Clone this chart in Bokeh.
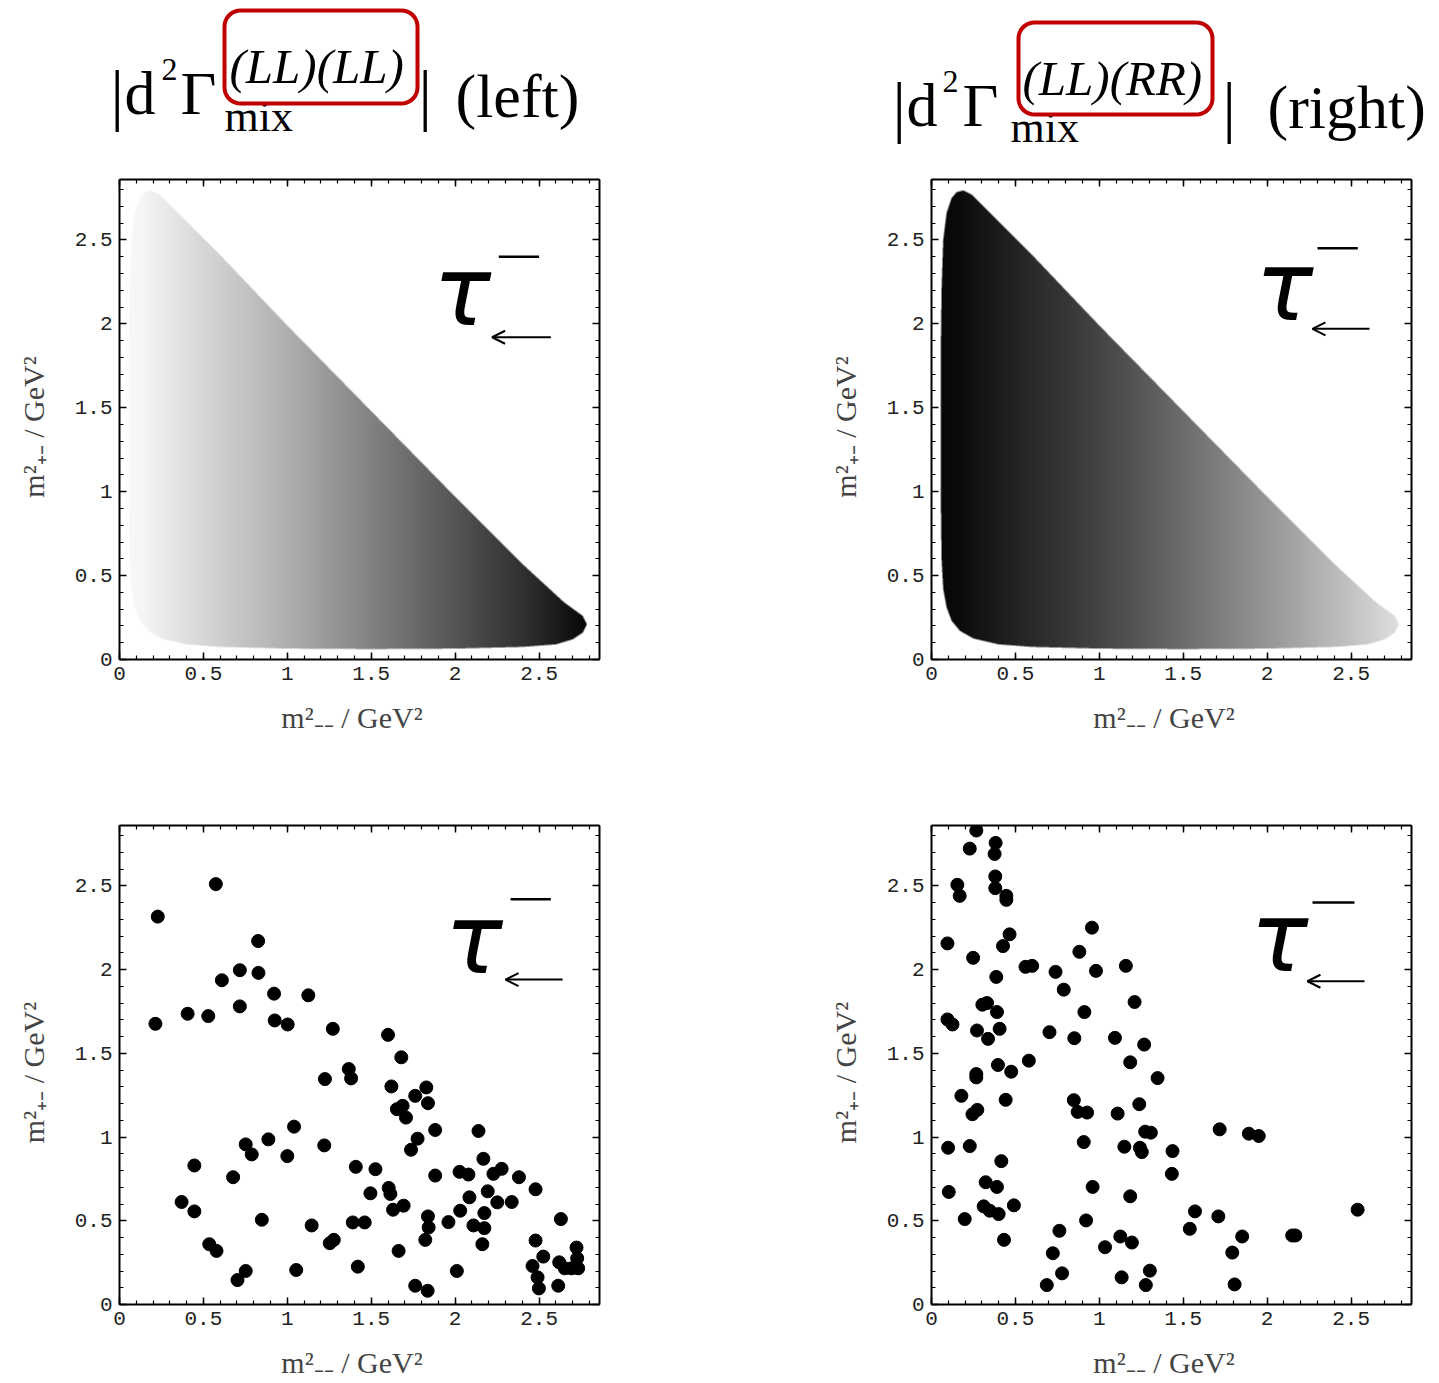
import numpy as np
from bokeh.plotting import figure
from bokeh.models import Range1d, FixedTicker, LinearAxis, Arrow, OpenHead
from bokeh.layouts import column, row
from bokeh.embed import file_html
from bokeh.resources import INLINE
from bokeh.core.properties import value

# ---------------- data ----------------
tick_values = [0, 0.5, 1, 1.5, 2, 2.5]
tick_labels = ["0", "0.5", "1", "1.5", "2", "2.5"]
minor_values = [round(0.1 * k, 1) for k in range(0, 29)]

x_label = "m\u00b2\u208b\u208b  /  GeV\u00b2"
y_label = "m\u00b2\u208a\u208b  /  GeV\u00b2"

# Dalitz region boundary
boundary_x = [0.19, 0.15, 0.12, 0.09, 0.07, 0.06, 0.055, 0.055, 0.06, 0.07, 0.09, 0.12, 0.17,
              0.25, 0.40, 0.60, 1.00, 1.50, 2.00, 2.40, 2.60, 2.70, 2.76, 2.785, 2.76,
              2.65, 2.40, 2.00, 1.50, 1.00, 0.60, 0.38, 0.30, 0.24]
boundary_y = [2.795, 2.785, 2.75, 2.66, 2.50, 2.20, 1.80, 1.00, 0.60, 0.42, 0.31, 0.23, 0.17,
              0.125, 0.09, 0.075, 0.065, 0.062, 0.065, 0.075, 0.09, 0.12, 0.16, 0.21, 0.26,
              0.34, 0.57, 0.97, 1.48, 1.99, 2.41, 2.63, 2.71, 2.77]

# grey level (0 = black, 255 = white) across m2_--
shade_x = [0.0, 0.15, 0.5, 1.0, 1.5, 2.0, 2.5, 2.8]
shade_left = [250, 245, 215, 175, 130, 85, 40, 5]
shade_right = [5, 10, 35, 68, 108, 150, 195, 225]

# scatter samples (LL)(LL)
ll_x = [0.228, 0.574, 0.214, 0.406, 0.529, 0.610, 0.717, 0.826, 0.828, 0.717, 0.921, 0.925,
        1.002, 1.125, 1.271, 1.600, 1.679, 1.366, 1.380, 1.224, 1.620, 1.828, 1.762, 1.838,
        1.653, 1.687, 1.707, 1.881, 2.139, 1.776, 1.737, 1.040, 0.887, 0.752, 0.788, 1.000,
        1.220, 0.446, 0.677, 1.408, 1.525, 2.168, 1.881, 2.026, 2.079, 2.228, 2.277, 2.380,
        2.479, 1.604, 1.614, 1.495, 2.194, 2.085, 2.251, 2.337, 0.370, 0.446, 1.630, 1.693,
        2.030, 2.174, 1.838, 1.960, 0.848, 1.145, 1.390, 1.461, 1.842, 2.109, 2.174, 2.630,
        0.535, 0.578, 1.253, 1.277, 1.663, 1.822, 2.162, 2.479, 2.525, 2.461, 2.491, 2.499,
        2.614, 2.723, 2.620, 2.653, 2.733, 2.693, 2.727, 0.703, 0.752, 1.053, 1.420, 2.010,
        1.762, 1.836]
ll_y = [2.316, 2.510, 1.676, 1.736, 1.722, 1.936, 1.996, 2.170, 1.980, 1.780, 1.856, 1.696,
        1.672, 1.846, 1.646, 1.610, 1.476, 1.406, 1.350, 1.346, 1.302, 1.296, 1.246, 1.202,
        1.166, 1.186, 1.116, 1.042, 1.036, 0.990, 0.924, 1.062, 0.986, 0.956, 0.896, 0.886,
        0.950, 0.830, 0.760, 0.822, 0.808, 0.870, 0.770, 0.792, 0.776, 0.780, 0.810, 0.760,
        0.688, 0.696, 0.660, 0.664, 0.676, 0.640, 0.610, 0.612, 0.612, 0.556, 0.566, 0.590,
        0.560, 0.546, 0.526, 0.492, 0.506, 0.472, 0.490, 0.490, 0.460, 0.472, 0.456, 0.510,
        0.360, 0.320, 0.366, 0.386, 0.320, 0.386, 0.360, 0.382, 0.286, 0.230, 0.162, 0.096,
        0.112, 0.340, 0.252, 0.216, 0.216, 0.216, 0.276, 0.146, 0.200, 0.206, 0.226, 0.200,
        0.112, 0.082]

# scatter samples (LL)(RR)
rr_x = [0.267, 0.228, 0.382, 0.376, 0.380, 0.380, 0.154, 0.168, 0.446, 0.446, 0.465, 0.956,
        0.095, 0.426, 0.881, 0.248, 0.560, 0.600, 0.739, 0.980, 1.158, 0.386, 0.788, 0.303,
        0.331, 1.210, 0.390, 0.911, 0.095, 0.125, 0.271, 0.406, 0.337, 0.703, 0.851, 1.093,
        1.267, 0.580, 0.396, 0.475, 1.184, 0.267, 0.267, 1.347, 0.178, 0.442, 0.848, 1.238,
        0.244, 0.273, 0.871, 0.927, 1.109, 1.273, 1.307, 1.717, 1.891, 1.950, 0.099, 0.228,
        0.907, 1.149, 1.242, 1.253, 1.436, 0.416, 1.432, 0.323, 0.390, 0.103, 0.960, 1.184,
        0.311, 0.347, 0.400, 0.491, 0.198, 0.921, 1.570, 1.539, 1.709, 2.539, 0.432, 0.762,
        1.125, 1.194, 1.034, 0.723, 1.851, 2.149, 2.168, 1.792, 0.778, 0.687, 1.133, 1.301,
        1.277, 1.806]
rr_y = [2.830, 2.722, 2.756, 2.690, 2.556, 2.486, 2.506, 2.440, 2.440, 2.416, 2.210, 2.250,
        2.156, 2.140, 2.106, 2.070, 2.016, 2.022, 1.986, 1.992, 2.022, 1.956, 1.880, 1.790,
        1.800, 1.806, 1.746, 1.746, 1.702, 1.672, 1.636, 1.646, 1.586, 1.626, 1.590, 1.592,
        1.552, 1.456, 1.430, 1.390, 1.446, 1.376, 1.356, 1.352, 1.246, 1.222, 1.220, 1.196,
        1.136, 1.162, 1.150, 1.146, 1.140, 1.032, 1.026, 1.046, 1.020, 1.006, 0.936, 0.946,
        0.970, 0.942, 0.936, 0.910, 0.916, 0.856, 0.780, 0.730, 0.702, 0.672, 0.702, 0.646,
        0.586, 0.560, 0.540, 0.592, 0.510, 0.502, 0.556, 0.452, 0.526, 0.566, 0.386, 0.440,
        0.406, 0.370, 0.342, 0.306, 0.406, 0.412, 0.412, 0.310, 0.186, 0.116, 0.162, 0.202,
        0.116, 0.120]

# ---------------- layout constants ----------------
XMAX = 2.86
PXU = 480 / XMAX          # pixels per data unit
TITLE_H = 158
INK = "#c00000"
SERIF = "Liberation Serif"
BASE_SHIFT = 0.33         # empirical baseline correction (em)


def inside_polygon(X, Y, px, py):
    res = np.zeros(X.shape, dtype=bool)
    n = len(px)
    j = n - 1
    for i in range(n):
        xi, yi, xj, yj = px[i], py[i], px[j], py[j]
        cond = ((yi > Y) != (yj > Y)) & (X < (xj - xi) * (Y - yi) / (yj - yi + 1e-12) + xi)
        res ^= cond
        j = i
    return res


def density_image(gray_stops):
    n, s = 480, 3
    c = (np.arange(n * s) + 0.5) * XMAX / (n * s)
    X, Y = np.meshgrid(c, c)
    cov = inside_polygon(X, Y, boundary_x, boundary_y).astype(float)
    cov = cov.reshape(n, s, n, s).mean(axis=(1, 3))
    cx = (np.arange(n) + 0.5) * XMAX / n
    g = np.interp(cx, shade_x, gray_stops)
    g = np.tile(g, (n, 1)).astype(np.uint8)
    img = np.zeros((n, n), dtype=np.uint32)
    v = img.view(dtype=np.uint8).reshape((n, n, 4))
    v[:, :, 0] = g
    v[:, :, 1] = g
    v[:, :, 2] = g
    v[:, :, 3] = (cov * 255).astype(np.uint8)
    return img


def style_axis(ax, labels=True):
    ax.ticker = FixedTicker(ticks=tick_values, minor_ticks=minor_values)
    ax.major_tick_in = 7
    ax.major_tick_out = 0
    ax.minor_tick_in = 4
    ax.minor_tick_out = 0
    ax.major_tick_line_width = 1.5
    ax.minor_tick_line_width = 1.2
    ax.axis_line_width = 2
    ax.axis_line_color = "black"
    ax.major_tick_line_color = "black"
    ax.minor_tick_line_color = "black"
    if labels:
        ax.major_label_overrides = {v: l for v, l in zip(tick_values, tick_labels)}
        ax.major_label_text_font = "Liberation Mono"
        ax.major_label_text_font_size = "21px"
        ax.major_label_text_color = "#222222"
        ax.major_label_standoff = 7
    else:
        ax.major_label_text_color = None


def panel(width, height, bl, br, bt, bb, tau_pos):
    p = figure(width=width, height=height, x_range=Range1d(0, XMAX), y_range=Range1d(0, XMAX),
               output_backend="svg", toolbar_location=None,
               min_border_left=bl, min_border_right=br, min_border_top=bt, min_border_bottom=bb)
    p.grid.visible = False
    p.outline_line_color = "black"
    p.outline_line_width = 1
    p.background_fill_color = "white"
    for ax in p.xaxis + p.yaxis:
        style_axis(ax, True)
        ax.axis_label_text_font = SERIF
        ax.axis_label_text_font_size = "30px"
        ax.axis_label_text_font_style = "normal"
        ax.axis_label_text_color = "#444444"
    p.xaxis.axis_label = x_label
    p.yaxis.axis_label = y_label
    p.xaxis.axis_label_standoff = 18
    p.yaxis.axis_label_standoff = 22
    top = LinearAxis()
    right = LinearAxis()
    style_axis(top, False)
    style_axis(right, False)
    p.add_layout(top, "above")
    p.add_layout(right, "right")

    tx, ty, bx0, bx1, by, ax0, ax1, ay = tau_pos
    tau_size = 96
    p.text(x=[tx], y=[ty + BASE_SHIFT * tau_size / PXU], text=["\u03c4"],
           text_font=value("DejaVu Sans"), text_font_size=f"{tau_size}px",
           text_font_style="italic", text_color="black",
           text_align="left", text_baseline="alphabetic")
    p.segment(x0=[bx0], y0=[by], x1=[bx1], y1=[by], line_color="black", line_width=2.5)
    p.add_layout(Arrow(x_start=ax1, y_start=ay, x_end=ax0, y_end=ay, line_width=2,
                       end=OpenHead(size=13, line_width=2)))
    return p


def rounded_box(p, x0, y0, x1, y1, r):
    xs, ys = [], []
    corners = [(x1 - r, y0 + r, -90, 0), (x1 - r, y1 - r, 0, 90),
               (x0 + r, y1 - r, 90, 180), (x0 + r, y0 + r, 180, 270)]
    for cx, cy, a0, a1 in corners:
        for a in np.linspace(np.radians(a0), np.radians(a1), 10):
            xs.append(cx + r * np.cos(a))
            ys.append(cy + r * np.sin(a))
    xs.append(xs[0])
    ys.append(ys[0])
    p.line(xs, ys, line_color=INK, line_width=4, line_join="round")


def title_piece(p, x, y, s, size, style="normal"):
    p.text(x=[x], y=[y - BASE_SHIFT * size], text=[s], text_font=value(SERIF),
           text_font_size=f"{size}px", text_font_style=style, text_color="black",
           text_align="left", text_baseline="alphabetic")


# ---------------- title strip ----------------
tfig = figure(width=1439, height=TITLE_H, x_range=Range1d(0, 1439), y_range=Range1d(TITLE_H, 0),
              output_backend="svg", toolbar_location=None, min_border=0,
              x_axis_location=None, y_axis_location=None)
tfig.grid.visible = False
tfig.outline_line_color = None

# left title (page coordinates, baseline y)
title_piece(tfig, 110, 117, "|", 67)
title_piece(tfig, 124, 113, "d", 62)
title_piece(tfig, 161, 80, "2", 32)
title_piece(tfig, 180, 113, "\u0393", 62)
title_piece(tfig, 229, 82, "(LL)(LL)", 49, "italic")
title_piece(tfig, 224, 131, "mix", 44)
title_piece(tfig, 418, 117, "|", 67)
title_piece(tfig, 455, 116, "(left)", 62)
rounded_box(tfig, 224, 10, 417, 103, 16)

# right title
title_piece(tfig, 892, 129, "|", 67)
title_piece(tfig, 906, 125, "d", 62)
title_piece(tfig, 942, 92, "2", 32)
title_piece(tfig, 962, 125, "\u0393", 62)
title_piece(tfig, 1022, 94, "(LL)(RR)", 49, "italic")
title_piece(tfig, 1010, 142, "mix", 44)
title_piece(tfig, 1222, 129, "|", 67)
title_piece(tfig, 1267, 127, "(right)", 62)
rounded_box(tfig, 1018, 22, 1212, 114, 16)

# ---------------- panels ----------------
f1 = panel(720, 607, 119, 121, 21, 106, (1.87, 2.0, 2.26, 2.50, 2.40, 2.22, 2.57, 1.92))
f1.image_rgba(image=[density_image(shade_left)], x=0, y=0, dw=XMAX, dh=XMAX)
f1.renderers = f1.renderers[-1:] + f1.renderers[:-1]

f2 = panel(719, 607, 211, 28, 21, 106, (1.93, 2.03, 2.30, 2.54, 2.45, 2.27, 2.61, 1.97))
f2.image_rgba(image=[density_image(shade_right)], x=0, y=0, dw=XMAX, dh=XMAX)
f2.renderers = f2.renderers[-1:] + f2.renderers[:-1]

f3 = panel(720, 616, 119, 121, 60, 76, (1.94, 1.99, 2.33, 2.57, 2.42, 2.30, 2.64, 1.94))
f3.scatter(ll_x, ll_y, size=13, marker="circle", color="black")

f4 = panel(719, 616, 211, 28, 60, 76, (1.90, 2.0, 2.27, 2.52, 2.40, 2.24, 2.58, 1.93))
f4.scatter(rr_x, rr_y, size=13, marker="circle", color="black")

layout = column(tfig, row(f1, f2), row(f3, f4))
open("out.html", "w").write(file_html(layout, INLINE))
